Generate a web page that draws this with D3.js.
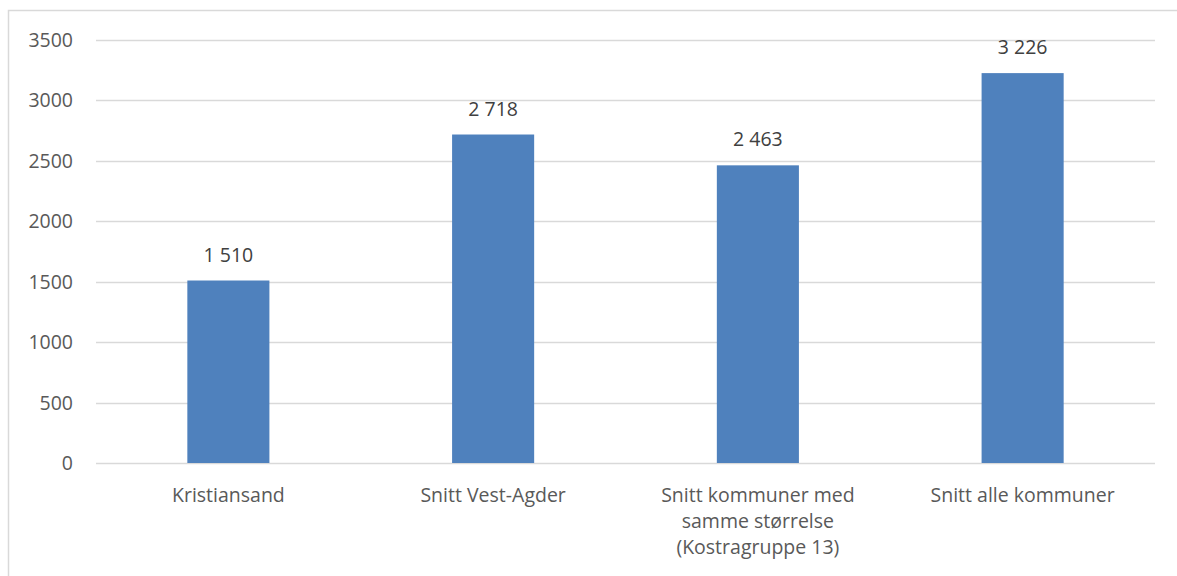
<!DOCTYPE html>
<html>
<head>
  <meta charset="utf-8">
  <script src="https://d3js.org/d3.v7.min.js"></script>
  <style>
    html, body { margin: 0; padding: 0; background: #fff; overflow: hidden; }
    svg { display: block; }
    text { font-family: "Open Sans", "Noto Sans", sans-serif; fill: #595959; }
  </style>
</head>
<body>
  <svg width="1177" height="576"></svg>
  <script>
    // data
    const categories = [
      ["Kristiansand"],
      ["Snitt Vest-Agder"],
      ["Snitt kommuner med", "samme størrelse", "(Kostragruppe 13)"],
      ["Snitt alle kommuner"]
    ];
    const values = [1510, 2718, 2463, 3226];
    const yTicks = [0, 500, 1000, 1500, 2000, 2500, 3000, 3500];

    const svg = d3.select("svg");
    const W = 1177, H = 576;
    const margin = { left: 96, right: 22, top: 40, bottom: 113 };
    const fs = 19.5;

    // chart frame
    svg.append("rect")
      .attr("x", 8.5).attr("y", 10.5)
      .attr("width", W + 10).attr("height", H + 10)
      .attr("fill", "none").attr("stroke", "#d9d9d9").attr("stroke-width", 1.5);

    const x = d3.scaleBand()
      .domain(d3.range(values.length))
      .range([margin.left, W - margin.right])
      .paddingInner(0.69).paddingOuter(0.345);

    const y = d3.scaleLinear()
      .domain([0, 3500])
      .range([H - margin.bottom, margin.top]);

    // gridlines
    svg.append("g").selectAll("line")
      .data(yTicks)
      .enter().append("line")
      .attr("x1", margin.left).attr("x2", W - margin.right)
      .attr("y1", d => Math.round(y(d)) + 0.5).attr("y2", d => Math.round(y(d)) + 0.5)
      .attr("stroke", "#d9d9d9").attr("stroke-width", 1.5);

    // y tick labels
    svg.append("g").selectAll("text")
      .data(yTicks)
      .enter().append("text")
      .attr("x", 73).attr("y", d => y(d) + 7)
      .attr("text-anchor", "end")
      .attr("font-size", fs)
      .text(d => d);

    // bars
    svg.append("g").selectAll("rect")
      .data(values)
      .enter().append("rect")
      .attr("x", (d, i) => x(i))
      .attr("width", x.bandwidth())
      .attr("y", d => y(d))
      .attr("height", d => y(0) - y(d))
      .attr("fill", "#4f81bd");

    // value labels
    const fmt = d => d3.format(",")(d).replace(/,/g, "\u00a0");
    svg.append("g").selectAll("text")
      .data(values)
      .enter().append("text")
      .attr("x", (d, i) => x(i) + x.bandwidth() / 2)
      .attr("y", d => y(d) - 19)
      .attr("text-anchor", "middle")
      .attr("font-size", fs)
      .style("fill", "#404040")
      .text(fmt);

    // category labels
    const cat = svg.append("g").selectAll("text")
      .data(categories)
      .enter().append("text")
      .attr("text-anchor", "middle")
      .attr("font-size", fs)
      .attr("x", (d, i) => x(i) + x.bandwidth() / 2)
      .attr("y", 502);
    cat.selectAll("tspan")
      .data(d => d)
      .enter().append("tspan")
      .attr("x", function () { return this.parentNode.getAttribute("x"); })
      .attr("dy", (d, i) => i === 0 ? 0 : 26)
      .text(d => d);
  </script>
</body>
</html>
